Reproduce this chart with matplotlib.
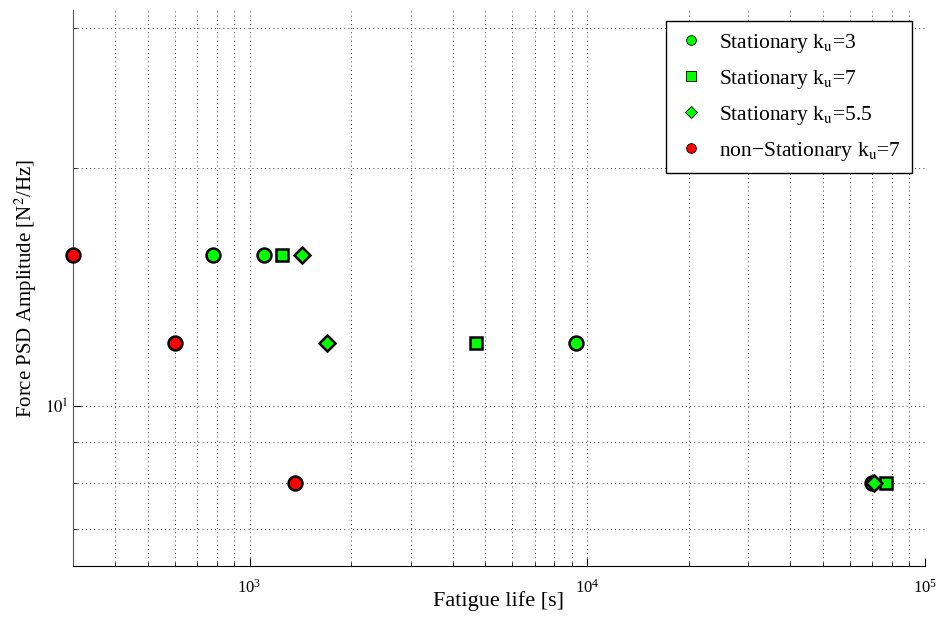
import numpy as np
import matplotlib
matplotlib.use("Agg")
import matplotlib.pyplot as plt
from matplotlib.lines import Line2D
from matplotlib.ticker import LogLocator, NullFormatter, FixedLocator

plt.rcParams['font.family'] = ['Liberation Serif', 'DejaVu Serif']
plt.rcParams['mathtext.fontset'] = 'stix'

# data
stat3_life = [780, 1100, 9250, 69600]
stat3_amp = [15.5, 15.5, 12, 8]

stat7_life = [1250, 4700, 77000]
stat7_amp = [15.5, 12, 8]

stat55_life = [1430, 1700, 71000]
stat55_amp = [15.5, 12, 8]

nonstat_life = [300, 600, 1360]
nonstat_amp = [15.5, 12, 8]

labels = ['Stationary k$_{\\mathrm{u}}$=3',
          'Stationary k$_{\\mathrm{u}}$=7',
          'Stationary k$_{\\mathrm{u}}$=5.5',
          'non\u2212Stationary k$_{\\mathrm{u}}$=7']

fig = plt.figure(figsize=(9.4, 6.28), dpi=100)
ax = fig.add_axes([0.0777, 0.0987, 0.906, 0.885])
ax.set_xscale('log')
ax.set_yscale('log')

green = '#00ff00'
red = '#ff0000'
ms = 10
mew = 1.8
ax.plot(stat3_life, stat3_amp, 'o', ms=ms, mfc=green, mec='k', mew=mew, zorder=3)
ax.plot(stat7_life, stat7_amp, 's', ms=ms - 1, mfc=green, mec='k', mew=mew, zorder=3)
ax.plot(stat55_life, stat55_amp, 'D', ms=ms - 2, mfc=green, mec='k', mew=mew, zorder=4)
ax.plot(nonstat_life, nonstat_amp, 'o', ms=ms, mfc=red, mec='k', mew=mew, zorder=5, clip_on=False)

ax.set_xlim(300, 1e5)
ax.set_ylim(6.28, 31.6)

ax.xaxis.set_major_locator(LogLocator(base=10))
ax.xaxis.set_minor_locator(LogLocator(base=10, subs=np.arange(2, 10)))
ax.xaxis.set_minor_formatter(NullFormatter())
ax.yaxis.set_major_locator(FixedLocator([10]))
ax.yaxis.set_minor_locator(FixedLocator([7, 8, 9, 20, 30]))
ax.yaxis.set_minor_formatter(NullFormatter())
ax.set_yticklabels(['$10^{1}$'])

ax.grid(True, which='both', linestyle=(0, (1, 4)), color='k', linewidth=0.6)
ax.tick_params(which='both', direction='in', labelsize=12)
ax.tick_params(axis='x', which='both', pad=9)
ax.tick_params(which='major', length=6)
ax.tick_params(which='minor', length=3)
ax.spines['top'].set_visible(False)
ax.spines['right'].set_visible(False)
ax.spines['left'].set_color('#555555')

ax.set_xlabel('Fatigue life [s]', fontsize=16, labelpad=-4)
ax.set_ylabel('Force PSD Amplitude [N$^2$/Hz]', fontsize=15, labelpad=4)

handles = [
    Line2D([], [], ls='none', marker='o', ms=7, mfc=green, mec='k', mew=0.6),
    Line2D([], [], ls='none', marker='s', ms=7, mfc=green, mec='k', mew=0.6),
    Line2D([], [], ls='none', marker='D', ms=6, mfc=green, mec='k', mew=0.6),
    Line2D([], [], ls='none', marker='o', ms=7, mfc=red, mec='k', mew=0.6),
]
leg = ax.legend(handles, labels, loc='upper right', fontsize=15.5, fancybox=False,
                edgecolor='k', framealpha=1, borderpad=0.5, labelspacing=0.6,
                handlelength=1.4, handletextpad=0.6, bbox_to_anchor=(0.998, 1.0))
leg.get_frame().set_linewidth(1.0)

fig.savefig('out.png', dpi=100)
